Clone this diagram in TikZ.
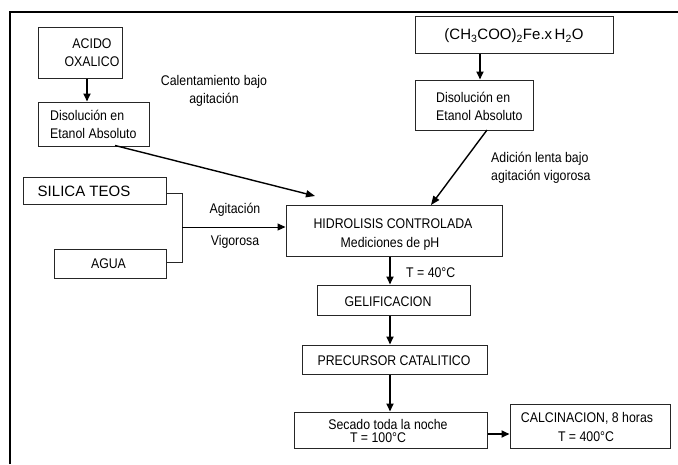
\documentclass[tikz,border=0pt]{standalone}
\usepackage{fontspec}
\setmainfont[FakeStretch=0.88]{Liberation Sans}
\newfontfamily\widefont{Liberation Sans}
\usetikzlibrary{arrows.meta}
\begin{document}
\begin{tikzpicture}[x=1pt,y=-1pt,
  box/.style={draw=black!85, line width=1pt, inner sep=0pt},
  txt/.style={inner sep=0pt, font=\fontsize{14}{18}\selectfont, align=center},
  bigtxt/.style={inner sep=0pt, font=\widefont\fontsize{15}{18}\selectfont, align=center},
  thick arr/.style={line width=1.8pt, -{Triangle[length=8pt,width=7pt]}},
  thin arr/.style={line width=1pt, -{Triangle[length=8pt,width=7pt]}},
  slant arr/.style={line width=1.4pt, -{Triangle[length=9pt,width=7pt]}},
  bracket/.style={line width=0.9pt, draw=black!85}]
\useasboundingbox (0,0) rectangle (678,464);
% frame
\draw[line width=2.2pt] (10,464) -- (10,12) -- (678,12);
% boxes
\node[box, minimum width=84pt, minimum height=51pt] (acido) at (80,52.5) {};
\node[txt] (acidot) at (92,52.5) {ACIDO\\OXALICO};
\node[box, minimum width=111pt, minimum height=44pt] (dis1) at (93.5,124) {};
\node[txt, anchor=west, align=left] (dis1t) at (50,124) {Disolución en\\Etanol Absoluto};
\node[box, minimum width=198pt, minimum height=37pt] (fe) at (514,34.5) {};
\node[bigtxt] (fet) at (514,36) {(CH\textsubscript{3}COO)\textsubscript{2}Fe.x\,H\textsubscript{2}O};
\node[box, minimum width=118pt, minimum height=50pt] (dis2) at (474,105) {};
\node[txt, anchor=west, align=left] (dis2t) at (436,106) {Disolución en\\Etanol Absoluto};
\node[box, minimum width=143pt, minimum height=27pt] (sil) at (94.5,190.5) {};
\node[bigtxt] (silt) at (84,191) {SILICA TEOS};
\node[box, minimum width=112pt, minimum height=29pt] (agua) at (110,263.5) {};
\node[txt] (aguat) at (108.5,264) {AGUA};
\node[box, minimum width=216pt, minimum height=51pt] (hidro) at (394,230.5) {};
\node[txt] (hidrot1) at (393,224) {HIDROLISIS CONTROLADA};
\node[txt] (hidrot2) at (390,244) {Mediciones de pH};
\node[box, minimum width=153pt, minimum height=30pt] (gel) at (393.5,300) {};
\node[txt] (gelt) at (388,302) {GELIFICACION};
\node[box, minimum width=185pt, minimum height=29pt] (prec) at (394.5,359.5) {};
\node[txt] (prect) at (394,361) {PRECURSOR CATALITICO};
\node[box, minimum width=193pt, minimum height=36pt] (sec) at (390.5,430) {};
\node[txt] (sect1) at (388,424) {Secado toda la noche};
\node[txt] (sect2) at (378,438) {T = 100°C};
\node[box, minimum width=160pt, minimum height=44pt] (calc) at (590,426) {};
\node[txt] (calct1) at (587,418) {CALCINACION, 8 horas};
\node[txt] (calct2) at (586,437) {T = 400°C};
% labels
\node[txt] (lcal) at (214,91) {Calentamiento bajo\\agitación};
\node[txt, anchor=west, align=left] (lad) at (491,168) {Adición lenta bajo\\agitación vigorosa};
\node[txt] (lag) at (235,210) {Agitación};
\node[txt] (lvig) at (235,242) {Vigorosa};
\node[txt, anchor=west] (lt40) at (406,273) {T = 40°C};
% coordinates
\coordinate (col) at (390,0);
\coordinate (c1) at (87,0);
\coordinate (c2) at (480,0);
\coordinate (d1s) at (115,145.5);
\coordinate (tip1) at (315,196);
\coordinate (d2s) at (487,130);
\coordinate (jx) at (182,0);
\coordinate (jmid) at (182,227);
% connectors
\draw[thick arr] (acido.south -| c1) -- (dis1.north -| c1);
\draw[thick arr] (fe.south -| c2) -- (dis2.north -| c2);
\draw[slant arr] (d1s) -- (tip1);
\draw[slant arr] (d2s) -- (431,205);
\draw[bracket] (sil.east |- 0,193) -- (jx |- 0,193) -- (jx |- 0,262) -- (agua.east |- 0,262);
\draw[thin arr] (jmid) -- (hidro.west |- jmid);
\draw[thick arr] (hidro.south -| col) -- (gel.north -| col);
\draw[thick arr] (gel.south -| col) -- (prec.north -| col);
\draw[thick arr] (prec.south -| col) -- (sec.north -| col);
\draw[thick arr] (sec.east |- 0,434) -- (calc.west |- 0,434);
\end{tikzpicture}
\end{document}
